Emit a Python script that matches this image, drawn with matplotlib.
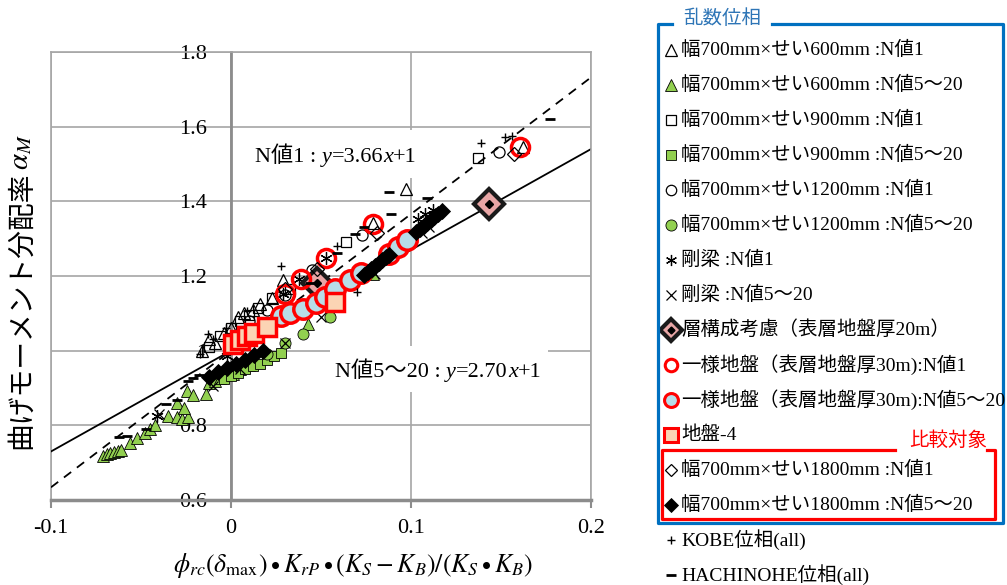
import numpy as np
import matplotlib.pyplot as plt
from matplotlib.patches import Rectangle

plt.rcParams['font.family'] = ['Liberation Serif', 'Noto Sans CJK JP']
plt.rcParams['mathtext.fontset'] = 'stix'

# ---- data ----
# 幅700mm×せい600mm
tri_n1_x = [-0.016, -0.012, -0.009, -0.004, 0.000, 0.004, 0.007, 0.012, 0.016, 0.023, 0.029, 0.079, 0.097, 0.162]
tri_n1_y = [1.000, 1.030, 1.020, 1.048, 1.060, 1.090, 1.100, 1.110, 1.125, 1.140, 1.188, 1.343, 1.432, 1.545]
tri_n5_x = [-0.071, -0.069, -0.067, -0.065, -0.063, -0.061, -0.056, -0.052, -0.048, -0.045, -0.042,
            -0.035, -0.030, -0.027, -0.024, -0.030, -0.026, -0.0245, -0.021, -0.014, -0.012, -0.009,
            -0.006, -0.002, 0.001, 0.005, 0.010, 0.043, 0.079]
tri_n5_y = [0.718, 0.722, 0.725, 0.728, 0.731, 0.733, 0.752, 0.767, 0.780, 0.790, 0.800,
            0.826, 0.821, 0.818, 0.821, 0.861, 0.847, 0.893, 0.880, 0.885, 0.914, 0.920,
            0.928, 0.938, 0.938, 0.950, 0.962, 1.072, 1.206]
# 幅700mm×せい900mm
sq_n1_x = [-0.012, -0.006, 0.000, 0.005, 0.010, 0.015, 0.023, 0.033, 0.064, 0.137]
sq_n1_y = [1.010, 1.040, 1.060, 1.080, 1.095, 1.115, 1.140, 1.165, 1.290, 1.515]
sq_n5_x = [-0.004, 0.000, 0.004, 0.008, 0.012, 0.016, 0.020, 0.024, 0.028]
sq_n5_y = [0.925, 0.933, 0.940, 0.950, 0.958, 0.965, 0.975, 0.985, 0.995]
# 幅700mm×せい1200mm
ci_n1_x = [0.010, 0.020, 0.030, 0.045, 0.073, 0.149]
ci_n1_y = [1.080, 1.110, 1.150, 1.215, 1.310, 1.531]
ci_n5_x = [0.020, 0.030, 0.040, 0.055]
ci_n5_y = [0.990, 1.020, 1.045, 1.090]
# 剛梁
rigid_n1_x = [-0.041, -0.002, 0.029, 0.038, 0.053, 0.104, 0.108, 0.112]
rigid_n1_y = [0.826, 0.985, 1.152, 1.193, 1.247, 1.352, 1.365, 1.378]
rigid_n5_x = [-0.040, -0.010, 0.005, 0.030, 0.050, 0.080, 0.106, 0.110]
rigid_n5_y = [0.830, 0.905, 0.950, 1.020, 1.090, 1.205, 1.315, 1.330]
# 層構成考慮
layer_x = [0.048, 0.1433]
layer_y = [1.180, 1.394]
# 一様地盤
uni_n1_x = [0.030, 0.039, 0.053, 0.079, 0.1606]
uni_n1_y = [1.152, 1.193, 1.249, 1.340, 1.546]
uni_n5_x = [0.028, 0.033, 0.040, 0.047, 0.052, 0.058, 0.066, 0.072, 0.088, 0.093, 0.098]
uni_n5_y = [1.094, 1.100, 1.112, 1.128, 1.143, 1.165, 1.190, 1.209, 1.259, 1.277, 1.297]
# 地盤-4
g4_x = [0.001, 0.005, 0.009, 0.013, 0.020, 0.058]
g4_y = [1.018, 1.028, 1.040, 1.048, 1.064, 1.130]
# 幅700mm×せい1800mm
dm_n1_x = [0.030, 0.048, 0.081, 0.157]
dm_n1_y = [1.165, 1.220, 1.316, 1.528]
dm_n5_x = [-0.012, -0.007, -0.002, 0.003, 0.008, 0.013, 0.018,
           0.074, 0.076, 0.078, 0.080, 0.082, 0.084, 0.086, 0.088,
           0.103, 0.105, 0.107, 0.109, 0.111, 0.113, 0.115, 0.117]
dm_n5_y = [0.930, 0.942, 0.953, 0.965, 0.976, 0.988, 0.999,
           1.202, 1.210, 1.218, 1.226, 1.234, 1.242, 1.250, 1.256,
           1.318, 1.326, 1.334, 1.342, 1.350, 1.358, 1.366, 1.375]
# 位相 (all)
kobe_x = [-0.017, -0.013, -0.010, -0.003, 0.009, 0.028, 0.059, 0.070, 0.115, 0.139, 0.152, 0.156]
kobe_y = [0.990, 1.045, 1.030, 1.060, 1.107, 1.228, 1.281, 1.158, 1.367, 1.557, 1.571, 1.575]
hachi_x = [-0.062, -0.058, -0.047, -0.036, -0.030, -0.024, -0.021, -0.018,
           0.044, 0.059, 0.069, 0.074, 0.088, 0.089, 0.109, 0.177]
hachi_y = [0.768, 0.771, 0.790, 0.858, 0.868, 0.920, 0.928, 0.935,
           1.182, 1.262, 1.313, 1.330, 1.426, 1.367, 1.410, 1.621]

# fitted lines y = a x + 1
slope_n1 = 3.66
slope_n5 = 2.70

xticks = [-0.1, 0, 0.1, 0.2]
xtick_labels = ['-0.1', '0', '0.1', '0.2']
yticks = [0.6, 0.8, 1.0, 1.2, 1.4, 1.6, 1.8]
ytick_labels = ['0.6', '0.8', '1', '1.2', '1.4', '1.6', '1.8']

GREEN = '#92D050'
RED = '#FF0000'
GRID = '#A6A6A6'
AXIS = '#8C8C8C'

# x, y, marker style, legend marker style, label
series = [
    (tri_n1_x, tri_n1_y, dict(marker='^', mfc='none', mec='k', ms=8, mew=0.9), dict(ms=8),
     '幅700mm×せい600mm :N値1'),
    (tri_n5_x, tri_n5_y, dict(marker='^', mfc=GREEN, mec='k', ms=9, mew=0.6), dict(ms=9),
     '幅700mm×せい600mm :N値5～20'),
    (sq_n1_x, sq_n1_y, dict(marker='s', mfc='none', mec='k', ms=7.5, mew=0.9), dict(ms=7),
     '幅700mm×せい900mm :N値1'),
    (sq_n5_x, sq_n5_y, dict(marker='s', mfc=GREEN, mec='k', ms=7.5, mew=0.6), dict(ms=7.5),
     '幅700mm×せい900mm :N値5～20'),
    (ci_n1_x, ci_n1_y, dict(marker='o', mfc='none', mec='k', ms=8, mew=0.9), dict(ms=7.5),
     '幅700mm×せい1200mm :N値1'),
    (ci_n5_x, ci_n5_y, dict(marker='o', mfc=GREEN, mec='k', ms=8, mew=0.6), dict(ms=8),
     '幅700mm×せい1200mm :N値5～20'),
    (rigid_n1_x, rigid_n1_y, dict(marker=(6, 2, 0), color='k', ms=9, mew=0.9), dict(ms=8),
     '剛梁 :N値1'),
    (rigid_n5_x, rigid_n5_y, dict(marker='x', color='k', ms=7, mew=0.9), dict(ms=7),
     '剛梁 :N値5～20'),
    (layer_x, layer_y, dict(marker='D', mfc='#E8A6A6', mec='#1A1A1A', ms=15, mew=3), dict(ms=11),
     '層構成考慮（表層地盤厚20m）'),
    (uni_n1_x, uni_n1_y, dict(marker='o', mfc='none', mec=RED, ms=13, mew=2.5), dict(ms=9, mew=2.2),
     '一様地盤（表層地盤厚30m):N値1'),
    (uni_n5_x, uni_n5_y, dict(marker='o', mfc='#B7DDE8', mec=RED, ms=14, mew=2.5), dict(ms=10, mew=2.2),
     '一様地盤（表層地盤厚30m):N値5～20'),
    (g4_x, g4_y, dict(marker='s', mfc='#FBD4B4', mec=RED, ms=13, mew=2.5), dict(ms=9.5, mew=2.2),
     '地盤-4'),
    (dm_n1_x, dm_n1_y, dict(marker='D', mfc='none', mec='k', ms=7, mew=0.9), dict(ms=6.5),
     '幅700mm×せい1800mm :N値1'),
    (dm_n5_x, dm_n5_y, dict(marker='D', color='k', ms=8, mew=0.6), dict(ms=7),
     '幅700mm×せい1800mm :N値5～20'),
    (kobe_x, kobe_y, dict(marker='+', color='k', ms=6, mew=1), dict(ms=6),
     'KOBE位相(all)'),
    (hachi_x, hachi_y, dict(marker='_', color='k', ms=7, mew=2), dict(ms=7),
     'HACHINOHE位相(all)'),
]

fig = plt.figure(figsize=(10.07, 5.85), dpi=100)
ax = fig.add_axes([51 / 1007, 85 / 585, 540 / 1007, 448 / 585])
ax.set_xlim(-0.1, 0.2)
ax.set_ylim(0.6, 1.8)
ax.set_xticks(xticks, xtick_labels)
ax.set_yticks(yticks, ytick_labels)
ax.set_axisbelow(True)
ax.grid(True, color=GRID, lw=1.2)

ax.spines['left'].set_position(('data', 0))
ax.spines['left'].set_color(AXIS)
ax.spines['left'].set_linewidth(2)
ax.spines['bottom'].set_color(AXIS)
ax.spines['bottom'].set_linewidth(2.5)
for s in ['top', 'right']:
    ax.spines[s].set_color(GRID)
    ax.spines[s].set_linewidth(1.2)
ax.axvline(-0.1, color=GRID, lw=1.2, clip_on=False, zorder=0.5)

ax.tick_params(axis='y', length=0, pad=17, labelsize=16)
ax.tick_params(axis='x', length=6, width=1.5, color=AXIS, pad=8, labelsize=16)

# white boxes behind the fit equations
ax.add_patch(Rectangle((0.010, 1.462), 0.094, 0.128, fc='white', ec='none', zorder=1))
ax.add_patch(Rectangle((0.055, 0.890), 0.121, 0.123, fc='white', ec='none', zorder=1))

xs = np.array(ax.get_xlim())
ax.plot(xs, slope_n1 * xs + 1, color='k', lw=1.3, ls=(0, (5, 4)), zorder=2)
ax.plot(xs, slope_n5 * xs + 1, color='k', lw=1.3, zorder=2)

for i, (x, y, st, lst, lab) in enumerate(series):
    ax.plot(x, y, ls='none', zorder=3 + i * 0.01, **st)
# inner mark of the layered-ground diamond
ax.plot(layer_x, layer_y, ls='none', marker='D', color='k', ms=4.5, zorder=3.2)


def eq_label(x, y, head, slope):
    prev = ax.text(x, y, head, fontsize=16, va='bottom', zorder=5)
    for s, style in [('y', 'italic'), ('={:.2f}'.format(slope), 'normal'),
                     ('x', 'italic'), ('+1', 'normal')]:
        prev = ax.annotate(s, xy=(1, 0), xycoords=prev, va='bottom', ha='left',
                           fontsize=16, style=style, zorder=5)


eq_label(0.0133, 1.493, 'N値1 : ', slope_n1)
eq_label(0.0578, 0.917, 'N値5～20 : ', slope_n5)

# overlay in pixel coordinates for labels and legend
lax = fig.add_axes([0, 0, 1, 1])
lax.set_xlim(0, 1007)
lax.set_ylim(585, 0)
lax.axis('off')

lax.text(353, 566, r'$\phi_{rc}(\delta_{\mathrm{max}})\bullet K_{rP}\bullet(K_S - K_B)/(K_S\bullet K_B)$',
         ha='center', va='center', fontsize=18.5)
lax.text(22, 310, '曲げモーメント分配率', rotation=90, ha='center', va='center', fontsize=20)
lax.text(21, 152, r'$\alpha_M$', rotation=90, ha='center', va='center', fontsize=21)

# legend
rows = [50, 85, 120, 155, 190, 225, 260, 295, 330, 365, 400, 435, 470, 505, 540, 575]
for (x, y, st, lst, lab), ry in zip(series, rows):
    lax.plot([671], [ry], ls='none', **dict(st, **lst))
    lax.text(681, ry, lab, ha='left', va='center', fontsize=14)
lax.plot([671], [rows[8]], ls='none', marker='D', color='k', ms=3.5)

BLUE = '#0070C0'
kw = dict(color=BLUE, lw=2.3, solid_capstyle='projecting')
lax.plot([672, 658, 658, 1003, 1003, 772], [24, 24, 523, 523, 24, 24], **kw)
lax.text(722, 19, '乱数位相', ha='center', va='center', fontsize=14, color='#2E75B6')

kw = dict(color=RED, lw=2.3, solid_capstyle='projecting')
lax.plot([895, 662, 662, 995, 995, 987], [450, 450, 519, 519, 450, 450], **kw)
lax.text(948, 441, '比較対象', ha='center', va='center', fontsize=14, color=RED)

fig.savefig('out.png', dpi=100)
